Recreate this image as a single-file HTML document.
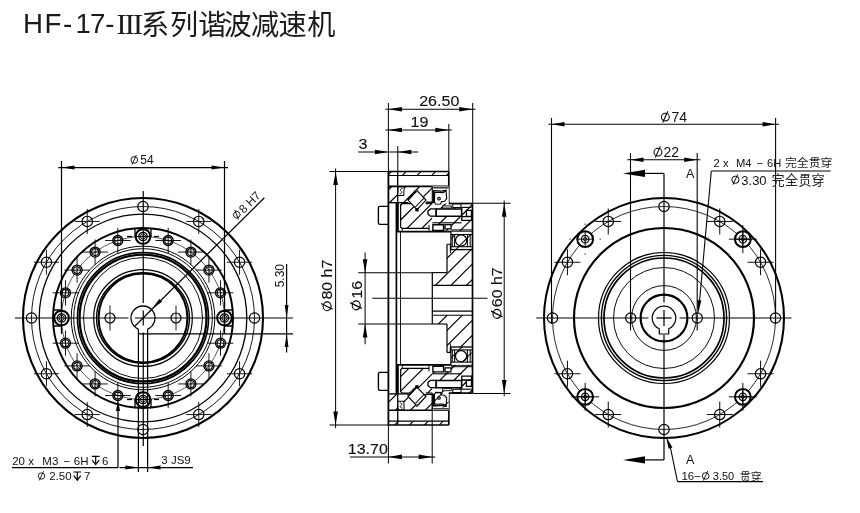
<!DOCTYPE html>
<html><head><meta charset="utf-8"><title>HF-17-III</title>
<style>
html,body{margin:0;padding:0;background:#fff;}
body{width:860px;height:513px;overflow:hidden;font-family:"Liberation Sans",sans-serif;}
svg{display:block;will-change:transform}
svg text{font-family:"Liberation Sans",sans-serif;fill:#111;stroke:none}
svg text.b{stroke:#111;stroke-width:.12px}
</style></head><body>
<svg width="860" height="513" viewBox="0 0 860 513" stroke="#000" fill="none" stroke-linecap="butt">
<rect x="0" y="0" width="860" height="513" fill="#fff" stroke="none"/>
<g id="leftview">
<circle cx="143" cy="318" r="120" stroke-width="2.08" fill="none" />
<circle cx="143" cy="318" r="111.5" stroke-width="0.91" fill="none" />
<circle cx="143" cy="318" r="103.8" stroke-width="1.3" fill="none" />
<circle cx="143" cy="318" r="90" stroke-width="1.95" fill="none" />
<circle cx="143" cy="318" r="81.5" stroke-width="0.65" fill="none" />
<circle cx="143" cy="318" r="71.8" stroke-width="0.98" fill="none" />
<circle cx="143" cy="318" r="69.3" stroke-width="0.98" fill="none" />
<circle cx="143" cy="318" r="65.55" stroke-width="1.62" fill="none" />
<circle cx="143" cy="318" r="63.45" stroke-width="2.21" fill="none" />
<circle cx="143" cy="318" r="44.4" stroke-width="1.95" fill="none" />
<ellipse cx="143.0" cy="318.0" rx="59.5" ry="60.5" stroke-width="0.95"/>
<ellipse cx="143.0" cy="318.0" rx="49.3" ry="48.4" stroke-width="1.2"/>
<ellipse cx="143.0" cy="318.0" rx="46.4" ry="45.2" stroke-width="1.4"/>
<circle cx="143" cy="206.5" r="5.2" stroke-width="1.17" fill="none" />
<circle cx="198.75" cy="221.44" r="5.2" stroke-width="1.17" fill="none" />
<line x1="186.25" y1="221.44" x2="211.25" y2="221.44" stroke-width="0.91" />
<line x1="198.75" y1="208.94" x2="198.75" y2="233.94" stroke-width="0.91" />
<circle cx="239.56" cy="262.25" r="5.2" stroke-width="1.17" fill="none" />
<line x1="227.06" y1="262.25" x2="252.06" y2="262.25" stroke-width="0.91" />
<line x1="239.56" y1="249.75" x2="239.56" y2="274.75" stroke-width="0.91" />
<circle cx="254.5" cy="318" r="5.2" stroke-width="1.17" fill="none" />
<circle cx="239.56" cy="373.75" r="5.2" stroke-width="1.17" fill="none" />
<line x1="227.06" y1="373.75" x2="252.06" y2="373.75" stroke-width="0.91" />
<line x1="239.56" y1="361.25" x2="239.56" y2="386.25" stroke-width="0.91" />
<circle cx="198.75" cy="414.56" r="5.2" stroke-width="1.17" fill="none" />
<line x1="186.25" y1="414.56" x2="211.25" y2="414.56" stroke-width="0.91" />
<line x1="198.75" y1="402.06" x2="198.75" y2="427.06" stroke-width="0.91" />
<circle cx="143" cy="429.5" r="5.2" stroke-width="1.17" fill="none" />
<circle cx="87.25" cy="414.56" r="5.2" stroke-width="1.17" fill="none" />
<line x1="74.75" y1="414.56" x2="99.75" y2="414.56" stroke-width="0.91" />
<line x1="87.25" y1="402.06" x2="87.25" y2="427.06" stroke-width="0.91" />
<circle cx="46.44" cy="373.75" r="5.2" stroke-width="1.17" fill="none" />
<line x1="33.94" y1="373.75" x2="58.94" y2="373.75" stroke-width="0.91" />
<line x1="46.44" y1="361.25" x2="46.44" y2="386.25" stroke-width="0.91" />
<circle cx="31.5" cy="318" r="5.2" stroke-width="1.17" fill="none" />
<circle cx="46.44" cy="262.25" r="5.2" stroke-width="1.17" fill="none" />
<line x1="33.94" y1="262.25" x2="58.94" y2="262.25" stroke-width="0.91" />
<line x1="46.44" y1="249.75" x2="46.44" y2="274.75" stroke-width="0.91" />
<circle cx="87.25" cy="221.44" r="5.2" stroke-width="1.17" fill="none" />
<line x1="74.75" y1="221.44" x2="99.75" y2="221.44" stroke-width="0.91" />
<line x1="87.25" y1="208.94" x2="87.25" y2="233.94" stroke-width="0.91" />
<path d="M151 228.36 L151 236.5 M135 228.36 L135 236.5" stroke-width="1.3" fill="none" />
<circle cx="143" cy="236.5" r="7.3" stroke-width="2.02" fill="#fff" />
<circle cx="143" cy="236.5" r="4.2" stroke-width="1.3" fill="none" />
<circle cx="143" cy="236.5" r="2.6" stroke-width="0.91" fill="none" />
<line x1="132" y1="236.5" x2="127" y2="236.5" stroke-width="1.23" />
<line x1="154" y1="236.5" x2="159" y2="236.5" stroke-width="1.23" />
<line x1="134.5" y1="236.5" x2="151.5" y2="236.5" stroke-width="1.23" />
<circle cx="168.18" cy="240.49" r="5" stroke-width="1.3" fill="none" />
<circle cx="168.18" cy="240.49" r="3.4" stroke-width="1.1" fill="none" />
<line x1="155.38" y1="240.49" x2="180.98" y2="240.49" stroke-width="0.91" />
<line x1="168.18" y1="227.89" x2="168.18" y2="253.09" stroke-width="0.91" />
<circle cx="190.9" cy="252.07" r="5" stroke-width="1.3" fill="none" />
<circle cx="190.9" cy="252.07" r="3.4" stroke-width="1.1" fill="none" />
<line x1="178.1" y1="252.07" x2="203.7" y2="252.07" stroke-width="0.91" />
<line x1="190.9" y1="239.47" x2="190.9" y2="264.67" stroke-width="0.91" />
<circle cx="208.93" cy="270.1" r="5" stroke-width="1.3" fill="none" />
<circle cx="208.93" cy="270.1" r="3.4" stroke-width="1.1" fill="none" />
<line x1="196.13" y1="270.1" x2="221.73" y2="270.1" stroke-width="0.91" />
<line x1="208.93" y1="257.5" x2="208.93" y2="282.7" stroke-width="0.91" />
<circle cx="220.51" cy="292.82" r="5" stroke-width="1.3" fill="none" />
<circle cx="220.51" cy="292.82" r="3.4" stroke-width="1.1" fill="none" />
<line x1="207.71" y1="292.82" x2="233.31" y2="292.82" stroke-width="0.91" />
<line x1="220.51" y1="280.22" x2="220.51" y2="305.42" stroke-width="0.91" />
<path d="M232.64 326 L224.5 326 M232.64 310 L224.5 310" stroke-width="1.3" fill="none" />
<circle cx="224.5" cy="318" r="7.3" stroke-width="2.02" fill="#fff" />
<circle cx="224.5" cy="318" r="4.2" stroke-width="1.3" fill="none" />
<circle cx="224.5" cy="318" r="2.6" stroke-width="0.91" fill="none" />
<line x1="224.5" y1="307" x2="224.5" y2="302" stroke-width="1.23" />
<line x1="224.5" y1="329" x2="224.5" y2="334" stroke-width="1.23" />
<line x1="224.5" y1="309.5" x2="224.5" y2="326.5" stroke-width="1.23" />
<circle cx="220.51" cy="343.18" r="5" stroke-width="1.3" fill="none" />
<circle cx="220.51" cy="343.18" r="3.4" stroke-width="1.1" fill="none" />
<line x1="207.71" y1="343.18" x2="233.31" y2="343.18" stroke-width="0.91" />
<line x1="220.51" y1="330.58" x2="220.51" y2="355.78" stroke-width="0.91" />
<circle cx="208.93" cy="365.9" r="5" stroke-width="1.3" fill="none" />
<circle cx="208.93" cy="365.9" r="3.4" stroke-width="1.1" fill="none" />
<line x1="196.13" y1="365.9" x2="221.73" y2="365.9" stroke-width="0.91" />
<line x1="208.93" y1="353.3" x2="208.93" y2="378.5" stroke-width="0.91" />
<circle cx="190.9" cy="383.93" r="5" stroke-width="1.3" fill="none" />
<circle cx="190.9" cy="383.93" r="3.4" stroke-width="1.1" fill="none" />
<line x1="178.1" y1="383.93" x2="203.7" y2="383.93" stroke-width="0.91" />
<line x1="190.9" y1="371.33" x2="190.9" y2="396.53" stroke-width="0.91" />
<circle cx="168.18" cy="395.51" r="5" stroke-width="1.3" fill="none" />
<circle cx="168.18" cy="395.51" r="3.4" stroke-width="1.1" fill="none" />
<line x1="155.38" y1="395.51" x2="180.98" y2="395.51" stroke-width="0.91" />
<line x1="168.18" y1="382.91" x2="168.18" y2="408.11" stroke-width="0.91" />
<path d="M135 407.64 L135 399.5 M151 407.64 L151 399.5" stroke-width="1.3" fill="none" />
<circle cx="143" cy="399.5" r="7.3" stroke-width="2.02" fill="#fff" />
<circle cx="143" cy="399.5" r="4.2" stroke-width="1.3" fill="none" />
<circle cx="143" cy="399.5" r="2.6" stroke-width="0.91" fill="none" />
<line x1="154" y1="399.5" x2="159" y2="399.5" stroke-width="1.23" />
<line x1="132" y1="399.5" x2="127" y2="399.5" stroke-width="1.23" />
<line x1="151.5" y1="399.5" x2="134.5" y2="399.5" stroke-width="1.23" />
<circle cx="117.82" cy="395.51" r="5" stroke-width="1.3" fill="none" />
<circle cx="117.82" cy="395.51" r="3.4" stroke-width="1.1" fill="none" />
<line x1="105.02" y1="395.51" x2="130.62" y2="395.51" stroke-width="0.91" />
<line x1="117.82" y1="382.91" x2="117.82" y2="408.11" stroke-width="0.91" />
<circle cx="95.1" cy="383.93" r="5" stroke-width="1.3" fill="none" />
<circle cx="95.1" cy="383.93" r="3.4" stroke-width="1.1" fill="none" />
<line x1="82.3" y1="383.93" x2="107.9" y2="383.93" stroke-width="0.91" />
<line x1="95.1" y1="371.33" x2="95.1" y2="396.53" stroke-width="0.91" />
<circle cx="77.07" cy="365.9" r="5" stroke-width="1.3" fill="none" />
<circle cx="77.07" cy="365.9" r="3.4" stroke-width="1.1" fill="none" />
<line x1="64.27" y1="365.9" x2="89.87" y2="365.9" stroke-width="0.91" />
<line x1="77.07" y1="353.3" x2="77.07" y2="378.5" stroke-width="0.91" />
<circle cx="65.49" cy="343.18" r="5" stroke-width="1.3" fill="none" />
<circle cx="65.49" cy="343.18" r="3.4" stroke-width="1.1" fill="none" />
<line x1="52.69" y1="343.18" x2="78.29" y2="343.18" stroke-width="0.91" />
<line x1="65.49" y1="330.58" x2="65.49" y2="355.78" stroke-width="0.91" />
<path d="M53.36 310 L61.5 310 M53.36 326 L61.5 326" stroke-width="1.3" fill="none" />
<circle cx="61.5" cy="318" r="7.3" stroke-width="2.02" fill="#fff" />
<circle cx="61.5" cy="318" r="4.2" stroke-width="1.3" fill="none" />
<circle cx="61.5" cy="318" r="2.6" stroke-width="0.91" fill="none" />
<line x1="61.5" y1="329" x2="61.5" y2="334" stroke-width="1.23" />
<line x1="61.5" y1="307" x2="61.5" y2="302" stroke-width="1.23" />
<line x1="61.5" y1="326.5" x2="61.5" y2="309.5" stroke-width="1.23" />
<circle cx="65.49" cy="292.82" r="5" stroke-width="1.3" fill="none" />
<circle cx="65.49" cy="292.82" r="3.4" stroke-width="1.1" fill="none" />
<line x1="52.69" y1="292.82" x2="78.29" y2="292.82" stroke-width="0.91" />
<line x1="65.49" y1="280.22" x2="65.49" y2="305.42" stroke-width="0.91" />
<circle cx="77.07" cy="270.1" r="5" stroke-width="1.3" fill="none" />
<circle cx="77.07" cy="270.1" r="3.4" stroke-width="1.1" fill="none" />
<line x1="64.27" y1="270.1" x2="89.87" y2="270.1" stroke-width="0.91" />
<line x1="77.07" y1="257.5" x2="77.07" y2="282.7" stroke-width="0.91" />
<circle cx="95.1" cy="252.07" r="5" stroke-width="1.3" fill="none" />
<circle cx="95.1" cy="252.07" r="3.4" stroke-width="1.1" fill="none" />
<line x1="82.3" y1="252.07" x2="107.9" y2="252.07" stroke-width="0.91" />
<line x1="95.1" y1="239.47" x2="95.1" y2="264.67" stroke-width="0.91" />
<circle cx="117.82" cy="240.49" r="5" stroke-width="1.3" fill="none" />
<circle cx="117.82" cy="240.49" r="3.4" stroke-width="1.1" fill="none" />
<line x1="105.02" y1="240.49" x2="130.62" y2="240.49" stroke-width="0.91" />
<line x1="117.82" y1="227.89" x2="117.82" y2="253.09" stroke-width="0.91" />
<circle cx="110" cy="318" r="5" stroke-width="1.17" fill="none" />
<line x1="110" y1="305.5" x2="110" y2="330.5" stroke-width="0.91" />
<circle cx="176" cy="318" r="5" stroke-width="1.17" fill="none" />
<line x1="176" y1="305.5" x2="176" y2="330.5" stroke-width="0.91" />
<path d="M147.6 329.08 A12.0 12.0 0 1 0 138.4 329.08" stroke-width="1.3" fill="none" />
<line x1="15" y1="318" x2="128.5" y2="318" stroke-width="1.2" />
<line x1="135" y1="318" x2="293" y2="318" stroke-width="1.2" />
<line x1="143.25" y1="191" x2="143.25" y2="303" stroke-width="1.2" />
<line x1="143.25" y1="310.5" x2="143.25" y2="325.5" stroke-width="1.2" />
<line x1="143.25" y1="332.5" x2="143.25" y2="446" stroke-width="1.2" />
<line x1="138.4" y1="329.08" x2="138.4" y2="472" stroke-width="1.23" />
<line x1="147.6" y1="329.08" x2="147.6" y2="472" stroke-width="1.23" />
<line x1="138.4" y1="333.9" x2="293" y2="333.9" stroke-width="1.23" />
<line x1="286.6" y1="264" x2="286.6" y2="352.5" stroke-width="1.23" />
<polygon points="286.6,318 284.7,305 288.5,305" fill="#000" stroke="none"/>
<polygon points="286.6,333.9 288.5,346.9 284.7,346.9" fill="#000" stroke="none"/>
<text x="284.2" y="287.3" font-size="12" text-anchor="start" transform="rotate(-90 284.2 287.3)" >5.30</text>
<line x1="61.5" y1="161" x2="61.5" y2="330.5" stroke-width="1.23" />
<line x1="224.5" y1="161" x2="224.5" y2="330.5" stroke-width="1.23" />
<line x1="58.3" y1="167.6" x2="228" y2="167.6" stroke-width="1.23" />
<polygon points="61.5,167.6 74.5,165.6 74.5,169.6" fill="#000" stroke="none"/>
<polygon points="224.5,167.6 211.5,169.6 211.5,165.6" fill="#000" stroke="none"/>
<g stroke-width="0.9" fill="none"><ellipse cx="134.28" cy="159.92" rx="3.36" ry="3.3"/><line x1="132" y1="164.54" x2="136.38" y2="154.94"/></g>
<text x="140.36" y="164.3" font-size="12" text-anchor="start" >54</text>
<line x1="134.51" y1="326.49" x2="264.3" y2="197.8" stroke-width="1.23" />
<polygon points="151.49,309.51 159.26,298.91 162.09,301.74" fill="#000" stroke="none"/>
<g transform="translate(237.0,220.6) rotate(-45)">
<g stroke-width="0.89" fill="none"><ellipse cx="4.01" cy="-4.31" rx="3.3" ry="3.25"/><line x1="1.77" y1="0.24" x2="6.08" y2="-9.2"/></g>
<text x="9.5" y="0" font-size="11.8" text-anchor="start" >8 H7</text>
</g>
<line x1="12" y1="467.6" x2="118" y2="467.6" stroke-width="1.23" />
<line x1="118" y1="467.6" x2="118" y2="410" stroke-width="1.23" />
<polygon points="118,399.6 120,411.1 116,411.1" fill="#000" stroke="none"/>
<text x="12.2" y="464.6" font-size="11.5" text-anchor="start" >20 x</text>
<text x="42.3" y="464.6" font-size="11.5" text-anchor="start" >M3</text>
<text x="63.5" y="464.6" font-size="11.5" text-anchor="start" >−</text>
<text x="73.8" y="464.6" font-size="11.5" text-anchor="start" >6H</text>
<text x="102" y="464.6" font-size="11.5" text-anchor="start" >6</text>
<path d="M91.8 456.4 H99.59 M95.69 456.4 V463.6" stroke-width="1.17" fill="none" />
<path d="M92.21 460.09 L95.69 464.6 L99.18 460.09" stroke-width="1.17" fill="none" />
<g stroke-width="0.86" fill="none"><ellipse cx="41.51" cy="476" rx="3.22" ry="3.16"/><line x1="39.32" y1="480.43" x2="43.52" y2="471.23"/></g>
<text x="49.2" y="480.2" font-size="11.5" text-anchor="start" >2.50</text>
<path d="M73.4 472 H81.19 M77.3 472 V479.2" stroke-width="1.17" fill="none" />
<path d="M73.81 475.69 L77.3 480.2 L80.78 475.69" stroke-width="1.17" fill="none" />
<text x="84" y="480.2" font-size="11.5" text-anchor="start" >7</text>
<line x1="119.5" y1="467.6" x2="193" y2="467.6" stroke-width="1.23" />
<polygon points="138.4,467.6 125.4,469.6 125.4,465.6" fill="#000" stroke="none"/>
<polygon points="147.6,467.6 160.6,465.6 160.6,469.6" fill="#000" stroke="none"/>
<text x="161.3" y="464.2" font-size="11.5" text-anchor="start" >3 JS9</text>
</g>
<g id="midview">
<clipPath id="hc1"><path d="M388.4 171.5 L448.8 171.5 L448.8 175.5 L388.4 175.5 Z" clip-rule="evenodd"/></clipPath>
<path d="M388.4 174.7 L448.8 114.3 M388.4 189.4 L448.8 129 M388.4 204.1 L448.8 143.7 M388.4 218.8 L448.8 158.4 M388.4 233.5 L448.8 173.1 " stroke-width="1.12" clip-path="url(#hc1)"/>
<clipPath id="hc2"><path d="M388.4 186.4 L432.3 186.4 L432.3 202.7 L388.4 202.7 Z M417 190.6 L426 200.1 L417 209.6 L408 200.1 Z M398.2 186.9 L404.2 186.9 L403.8 195.4 L397.8 195.4 Z" clip-rule="evenodd"/></clipPath>
<path d="M388.4 189.8 L432.3 145.9 M388.4 203.8 L432.3 159.9 M388.4 217.8 L432.3 173.9 M388.4 231.8 L432.3 187.9 M388.4 245.8 L432.3 201.9 " stroke-width="1.18" clip-path="url(#hc2)"/>
<line x1="388.4" y1="171.5" x2="448.8" y2="171.5" stroke-width="1.46" />
<line x1="388.4" y1="175.5" x2="448.8" y2="175.5" stroke-width="1.23" />
<line x1="388.4" y1="186.4" x2="448.8" y2="186.4" stroke-width="1.57" />
<line x1="448.8" y1="171.5" x2="448.8" y2="203.5" stroke-width="1.68" />
<line x1="397.7" y1="171.5" x2="397.7" y2="202.7" stroke-width="1.34" />
<line x1="388.4" y1="202.7" x2="408.4" y2="202.7" stroke-width="1.34" />
<line x1="425.6" y1="202.2" x2="432.3" y2="202.2" stroke-width="1.34" />
<path d="M398.2 186.9 L404.2 186.9 L403.8 195.4 L397.8 195.4 Z" stroke-width="1.01" fill="#fff" />
<path d="M399.6 193.6 C401.5 194.2 402.8 191.8 401 191 C399.6 190.2 400.6 188.2 402.6 188.6" stroke-width="0.9" fill="none" />
<clipPath id="hc3"><path d="M400.6 205 L402 203.6 L432.3 203.6 L432.3 228.3 L402 228.3 L400.6 226.9 Z M417 190.6 L426 200.1 L417 209.6 L408 200.1 Z M428 211 L430.4 208.9 L436.2 208.9 L436.2 216.2 L430.4 216.2 L428 214.2 Z" clip-rule="evenodd"/></clipPath>
<path d="M400.6 205.2 L432.3 173.5 M400.6 220 L432.3 188.3 M400.6 234.8 L432.3 203.1 M400.6 249.6 L432.3 217.9 " stroke-width="1.18" clip-path="url(#hc3)"/>
<path d="M412.2 203.6 L402 203.6 L400.6 205 L400.6 226.9 L402 228.3 L429 228.3" stroke-width="1.23" fill="none" />
<line x1="425.6" y1="203.6" x2="432.3" y2="203.6" stroke-width="1.12" />
<line x1="402.3" y1="228.3" x2="402.3" y2="231.7" stroke-width="0.9" />
<line x1="429" y1="225" x2="429" y2="231.7" stroke-width="1.01" />
<path d="M417 190.6 L426 200.1 L417 209.6 L408 200.1 Z" stroke-width="1.12" fill="#fff" />
<line x1="407.7" y1="199.2" x2="416.1" y2="190.4" stroke-width="2.13" stroke-dasharray="0.9 0.45"/>
<line x1="408" y1="200.1" x2="417" y2="190.6" stroke-width="1.01" />
<line x1="415.4" y1="207" x2="424.4" y2="197.6" stroke-width="1.01" />
<rect x="415.3" y="208.2" width="3.3" height="3.2" fill="#000" stroke="none"/>
<circle cx="417" cy="191" r="0.9" stroke-width="0.78" fill="#fff" />
<rect x="432.3" y="186.4" width="16.5" height="17.1" fill="#fff" stroke="none"/>
<line x1="433.2" y1="187.8" x2="448.8" y2="187.8" stroke-width="1.57" stroke="#444"/>
<line x1="432.3" y1="186.4" x2="432.3" y2="203.5" stroke-width="1.12" />
<line x1="433.6" y1="190.4" x2="433.6" y2="203" stroke-width="1.68" />
<path d="M433.6 190.6 L441.5 191.2 L446.8 190.2" stroke-width="1.34" fill="none" />
<path d="M434.8 192.3 L443 192.6 L446 190.8 L446.7 198.6 L444.5 201.3 L441.6 201.6 L440.6 204 L435.8 204.2 L434.3 202 Z" stroke-width="1.12" fill="none" />
<circle cx="439" cy="198.7" r="1.3" stroke-width="1.12" fill="none" />
<path d="M388.4 206.3 H379.9 Q378.4 206.3 378.4 207.8 V222.8 Q378.4 224.3 379.9 224.3 H388.4" stroke-width="1.34" fill="none" />
<line x1="396.4" y1="202.7" x2="396.4" y2="298.3" stroke-width="1.68" />
<line x1="397.9" y1="203" x2="397.9" y2="231.7" stroke-width="1.79" />
<line x1="400.5" y1="231.7" x2="400.5" y2="298.3" stroke-width="0.9" />
<line x1="397" y1="231.7" x2="472.5" y2="231.7" stroke-width="1.68" />
<clipPath id="hc4"><path d="M432.3 203.5 L472.5 203.5 L472.5 231.7 L432.3 231.7 Z M436.2 208.9 L461.6 208.9 L461.6 216.2 L436.2 216.2 Z M466.4 210.3 L471.5 210.3 L471.5 216.4 L466.4 216.4 Z M461.8 216.6 L471.5 216.6 L471.5 220.4 L461.8 220.4 Z M452.8 204 L461 204 L461 207.4 L452.8 207.4 Z M432.9 224.7 L443.6 224.7 L443.6 230.4 L432.9 230.4 Z M445 224.7 L451 224.7 L451 228.8 L445 228.8 Z M442.5 205.9 L451.4 205.9 L451.4 208 L442.5 208 Z M428 211 L430.4 208.9 L436.2 208.9 L436.2 216.2 L430.4 216.2 L428 214.2 Z" clip-rule="evenodd"/></clipPath>
<path d="M432.3 216.9 L472.5 176.7 M432.3 230.8 L472.5 190.6 M432.3 244.7 L472.5 204.5 M432.3 258.6 L472.5 218.4 " stroke-width="1.23" clip-path="url(#hc4)"/>
<line x1="448.8" y1="203.5" x2="472.5" y2="203.5" stroke-width="1.68" />
<path d="M428 211 L430.4 208.9 L436.2 208.9 L436.2 216.2 L430.4 216.2 L428 214.2 Z" stroke-width="1.34" fill="#fff" />
<path d="M436.2 208.9 L461.6 208.9 L461.6 216.2 L436.2 216.2 Z" stroke-width="1.51" fill="#fff" />
<path d="M466.4 210.3 L471.5 210.3 L471.5 216.4 L466.4 216.4 Z" stroke-width="1.34" fill="#fff" />
<path d="M461.8 216.6 L471.5 216.6 L471.5 220.4 L461.8 220.4 Z" stroke-width="1.34" fill="#fff" />
<path d="M461.6 207.4 L471.5 207.4" stroke-width="1.12" fill="none" />
<line x1="461.6" y1="207.4" x2="461.6" y2="216.9" stroke-width="1.12" />
<path d="M452.8 204 L461 204 L461 207.4 L452.8 207.4 Z" stroke-width="1.01" fill="#fff" />
<path d="M432.9 224.7 L443.6 224.7 L443.6 230.4 L432.9 230.4 Z" stroke-width="1.4" fill="#fff" />
<path d="M445 224.7 L451 224.7 L451 228.8 L445 228.8 Z" stroke-width="1.23" fill="#fff" />
<path d="M442.5 205.9 L451.4 205.9 L451.4 208 L442.5 208 Z" stroke-width="0.9" fill="#fff" />
<line x1="432.3" y1="222.8" x2="461.6" y2="222.8" stroke-width="1.12" />
<line x1="451" y1="229.9" x2="472.5" y2="229.9" stroke-width="1.01" />
<rect x="450.9" y="231.7" width="20.9" height="17.9" fill="#fff" stroke="none"/>
<line x1="450.9" y1="231.7" x2="450.9" y2="249.6" stroke-width="1.23" />
<line x1="450.9" y1="234.5" x2="471.8" y2="234.5" stroke-width="1.12" />
<line x1="450.9" y1="246.7" x2="471.8" y2="246.7" stroke-width="1.12" />
<line x1="450.9" y1="249.6" x2="471.8" y2="249.6" stroke-width="1.34" />
<line x1="452.3" y1="234.5" x2="452.3" y2="246.7" stroke-width="1.01" />
<line x1="454.6" y1="234.5" x2="454.6" y2="246.7" stroke-width="1.01" />
<line x1="467.4" y1="234.5" x2="467.4" y2="246.7" stroke-width="1.01" />
<line x1="470.2" y1="234.5" x2="470.2" y2="246.7" stroke-width="1.01" />
<circle cx="461.1" cy="240.4" r="5.6" stroke-width="1.23" fill="#fff" />
<clipPath id="hc5"><path d="M447 244.2 L450.4 244.2 L450.4 249.6 L472.5 249.6 L472.5 285.4 L432.3 285.4 L432.3 272.6 L447 272.6 Z" clip-rule="evenodd"/></clipPath>
<path d="M432.3 257.5 L472.5 217.3 M432.3 273 L472.5 232.8 M432.3 288.5 L472.5 248.3 M432.3 304 L472.5 263.8 M432.3 319.5 L472.5 279.3 " stroke-width="1.18" clip-path="url(#hc5)"/>
<clipPath id="hc6"><path d="M450.9 234.5 L471.8 234.5 L471.8 249.6 L450.9 249.6 Z" clip-rule="evenodd"/></clipPath>
<path d="M450.9 238.9 L471.8 218 M450.9 254.4 L471.8 233.5 M450.9 269.9 L471.8 249 " stroke-width="1.01" clip-path="url(#hc6)"/>
<path d="M447 244.2 L450.4 244.2 L450.4 249.6" stroke-width="1.12" fill="none" />
<line x1="450.4" y1="246.2" x2="450.4" y2="253" stroke-width="1.01" />
<line x1="447" y1="244.2" x2="447" y2="272.6" stroke-width="1.23" />
<line x1="432.3" y1="272.6" x2="447" y2="272.6" stroke-width="1.12" />
<line x1="432.3" y1="272.6" x2="432.3" y2="298.3" stroke-width="1.23" />
<line x1="432.3" y1="285.4" x2="472.5" y2="285.4" stroke-width="1.12" />
<line x1="472.5" y1="203.5" x2="472.5" y2="298.3" stroke-width="1.68" />
<line x1="388.4" y1="171.5" x2="388.4" y2="298.3" stroke-width="1.79" />
<clipPath id="hc7"><path d="M388.4 425.1 L448.8 425.1 L448.8 421.1 L388.4 421.1 Z" clip-rule="evenodd"/></clipPath>
<path d="M388.4 431.2 L448.8 370.8 M388.4 446.1 L448.8 385.7 M388.4 461 L448.8 400.6 M388.4 475.9 L448.8 415.5 " stroke-width="1.12" clip-path="url(#hc7)"/>
<clipPath id="hc8"><path d="M388.4 410.2 L432.3 410.2 L432.3 393.9 L388.4 393.9 Z M417 406 L426 396.5 L417 387 L408 396.5 Z M398.2 409.7 L404.2 409.7 L403.8 401.2 L397.8 401.2 Z" clip-rule="evenodd"/></clipPath>
<path d="M388.4 402.4 L432.3 358.5 M388.4 417.3 L432.3 373.4 M388.4 432.2 L432.3 388.3 M388.4 447.1 L432.3 403.2 " stroke-width="1.18" clip-path="url(#hc8)"/>
<line x1="388.4" y1="425.1" x2="448.8" y2="425.1" stroke-width="1.46" />
<line x1="388.4" y1="421.1" x2="448.8" y2="421.1" stroke-width="1.23" />
<line x1="388.4" y1="410.2" x2="448.8" y2="410.2" stroke-width="1.57" />
<line x1="448.8" y1="425.1" x2="448.8" y2="393.1" stroke-width="1.68" />
<line x1="397.7" y1="425.1" x2="397.7" y2="393.9" stroke-width="1.34" />
<line x1="388.4" y1="393.9" x2="408.4" y2="393.9" stroke-width="1.34" />
<line x1="425.6" y1="394.4" x2="432.3" y2="394.4" stroke-width="1.34" />
<path d="M398.2 409.7 L404.2 409.7 L403.8 401.2 L397.8 401.2 Z" stroke-width="1.01" fill="#fff" />
<path d="M399.6 403 C401.5 402.4 402.8 404.8 401 405.6 C399.6 406.4 400.6 408.4 402.6 408" stroke-width="0.9" fill="none" />
<clipPath id="hc9"><path d="M400.6 391.6 L402 393 L432.3 393 L432.3 368.3 L402 368.3 L400.6 369.7 Z M417 406 L426 396.5 L417 387 L408 396.5 Z M428 385.6 L430.4 387.7 L436.2 387.7 L436.2 380.4 L430.4 380.4 L428 382.4 Z" clip-rule="evenodd"/></clipPath>
<path d="M400.6 376.6 L432.3 344.9 M400.6 391.1 L432.3 359.4 M400.6 405.6 L432.3 373.9 M400.6 420.1 L432.3 388.4 " stroke-width="1.18" clip-path="url(#hc9)"/>
<path d="M412.2 393 L402 393 L400.6 391.6 L400.6 369.7 L402 368.3 L429 368.3" stroke-width="1.23" fill="none" />
<line x1="425.6" y1="393" x2="432.3" y2="393" stroke-width="1.12" />
<line x1="402.3" y1="368.3" x2="402.3" y2="364.9" stroke-width="0.9" />
<line x1="429" y1="371.6" x2="429" y2="364.9" stroke-width="1.01" />
<path d="M417 406 L426 396.5 L417 387 L408 396.5 Z" stroke-width="1.12" fill="#fff" />
<line x1="407.7" y1="395.6" x2="416.1" y2="386.8" stroke-width="2.13" stroke-dasharray="0.9 0.45"/>
<line x1="408" y1="396.5" x2="417" y2="387" stroke-width="1.01" />
<line x1="415.4" y1="403.4" x2="424.4" y2="394" stroke-width="1.01" />
<rect x="415.3" y="385.2" width="3.3" height="3.2" fill="#000" stroke="none"/>
<circle cx="417" cy="405.6" r="0.9" stroke-width="0.78" fill="#fff" />
<rect x="432.3" y="393.1" width="16.5" height="17.1" fill="#fff" stroke="none"/>
<line x1="433.2" y1="408.8" x2="448.8" y2="408.8" stroke-width="1.57" stroke="#444"/>
<line x1="432.3" y1="410.2" x2="432.3" y2="393.1" stroke-width="1.12" />
<line x1="433.6" y1="406.2" x2="433.6" y2="393.6" stroke-width="1.68" />
<path d="M433.6 406 L441.5 405.4 L446.8 406.4" stroke-width="1.34" fill="none" />
<path d="M434.8 404.3 L443 404 L446 405.8 L446.7 398 L444.5 395.3 L441.6 395 L440.6 392.6 L435.8 392.4 L434.3 394.6 Z" stroke-width="1.12" fill="none" />
<circle cx="439" cy="397.9" r="1.3" stroke-width="1.12" fill="none" />
<clipPath id="hc10"><path d="M434.4 407.6 L448.8 407.6 L448.8 393.1 L434.4 393.1 Z" clip-rule="evenodd"/></clipPath>
<path d="M434.4 401.1 L448.8 386.7 M434.4 416 L448.8 401.6 " stroke-width="1.01" clip-path="url(#hc10)"/>
<path d="M388.4 390.3 H379.9 Q378.4 390.3 378.4 388.8 V373.8 Q378.4 372.3 379.9 372.3 H388.4" stroke-width="1.34" fill="none" />
<line x1="396.4" y1="393.9" x2="396.4" y2="298.3" stroke-width="1.68" />
<line x1="397.9" y1="393.6" x2="397.9" y2="364.9" stroke-width="1.79" />
<line x1="400.5" y1="364.9" x2="400.5" y2="298.3" stroke-width="0.9" />
<line x1="397" y1="364.9" x2="472.5" y2="364.9" stroke-width="1.68" />
<clipPath id="hc11"><path d="M432.3 393.1 L472.5 393.1 L472.5 364.9 L432.3 364.9 Z M436.2 387.7 L461.6 387.7 L461.6 380.4 L436.2 380.4 Z M466.4 386.3 L471.5 386.3 L471.5 380.2 L466.4 380.2 Z M461.8 380 L471.5 380 L471.5 376.2 L461.8 376.2 Z M452.8 392.6 L461 392.6 L461 389.2 L452.8 389.2 Z M432.9 371.9 L443.6 371.9 L443.6 366.2 L432.9 366.2 Z M445 371.9 L451 371.9 L451 367.8 L445 367.8 Z M442.5 390.7 L451.4 390.7 L451.4 388.6 L442.5 388.6 Z M428 385.6 L430.4 387.7 L436.2 387.7 L436.2 380.4 L430.4 380.4 L428 382.4 Z" clip-rule="evenodd"/></clipPath>
<path d="M432.3 373.9 L472.5 333.7 M432.3 387.9 L472.5 347.7 M432.3 401.9 L472.5 361.7 M432.3 415.9 L472.5 375.7 M432.3 429.9 L472.5 389.7 " stroke-width="1.23" clip-path="url(#hc11)"/>
<line x1="448.8" y1="393.1" x2="472.5" y2="393.1" stroke-width="1.68" />
<path d="M428 385.6 L430.4 387.7 L436.2 387.7 L436.2 380.4 L430.4 380.4 L428 382.4 Z" stroke-width="1.34" fill="#fff" />
<path d="M436.2 387.7 L461.6 387.7 L461.6 380.4 L436.2 380.4 Z" stroke-width="1.51" fill="#fff" />
<path d="M466.4 386.3 L471.5 386.3 L471.5 380.2 L466.4 380.2 Z" stroke-width="1.34" fill="#fff" />
<path d="M461.8 380 L471.5 380 L471.5 376.2 L461.8 376.2 Z" stroke-width="1.34" fill="#fff" />
<path d="M461.6 389.2 L471.5 389.2" stroke-width="1.12" fill="none" />
<line x1="461.6" y1="389.2" x2="461.6" y2="379.7" stroke-width="1.12" />
<path d="M452.8 392.6 L461 392.6 L461 389.2 L452.8 389.2 Z" stroke-width="1.01" fill="#fff" />
<path d="M432.9 371.9 L443.6 371.9 L443.6 366.2 L432.9 366.2 Z" stroke-width="1.4" fill="#fff" />
<path d="M445 371.9 L451 371.9 L451 367.8 L445 367.8 Z" stroke-width="1.23" fill="#fff" />
<path d="M442.5 390.7 L451.4 390.7 L451.4 388.6 L442.5 388.6 Z" stroke-width="0.9" fill="#fff" />
<line x1="432.3" y1="373.8" x2="461.6" y2="373.8" stroke-width="1.12" />
<line x1="451" y1="366.7" x2="472.5" y2="366.7" stroke-width="1.01" />
<rect x="450.9" y="347" width="20.9" height="17.9" fill="#fff" stroke="none"/>
<line x1="450.9" y1="364.9" x2="450.9" y2="347" stroke-width="1.23" />
<line x1="450.9" y1="362.1" x2="471.8" y2="362.1" stroke-width="1.12" />
<line x1="450.9" y1="349.9" x2="471.8" y2="349.9" stroke-width="1.12" />
<line x1="450.9" y1="347" x2="471.8" y2="347" stroke-width="1.34" />
<line x1="452.3" y1="362.1" x2="452.3" y2="349.9" stroke-width="1.01" />
<line x1="454.6" y1="362.1" x2="454.6" y2="349.9" stroke-width="1.01" />
<line x1="467.4" y1="362.1" x2="467.4" y2="349.9" stroke-width="1.01" />
<line x1="470.2" y1="362.1" x2="470.2" y2="349.9" stroke-width="1.01" />
<circle cx="461.1" cy="356.2" r="5.6" stroke-width="1.23" fill="#fff" />
<clipPath id="hc12"><path d="M447 352.4 L450.4 352.4 L450.4 347 L472.5 347 L472.5 315.3 L432.3 315.3 L432.3 324 L447 324 Z" clip-rule="evenodd"/></clipPath>
<path d="M432.3 315 L472.5 274.8 M432.3 330.1 L472.5 289.9 M432.3 345.2 L472.5 305 M432.3 360.3 L472.5 320.1 M432.3 375.4 L472.5 335.2 M432.3 390.5 L472.5 350.3 " stroke-width="1.18" clip-path="url(#hc12)"/>
<line x1="432.3" y1="311.1" x2="472.5" y2="311.1" stroke-width="1.12" />
<clipPath id="hc13"><path d="M450.9 362.1 L471.8 362.1 L471.8 347 L450.9 347 Z" clip-rule="evenodd"/></clipPath>
<path d="M450.9 358 L471.8 337.1 M450.9 373.5 L471.8 352.6 " stroke-width="1.01" clip-path="url(#hc13)"/>
<path d="M447 352.4 L450.4 352.4 L450.4 347" stroke-width="1.12" fill="none" />
<line x1="450.4" y1="350.4" x2="450.4" y2="343.6" stroke-width="1.01" />
<line x1="447" y1="352.4" x2="447" y2="324" stroke-width="1.23" />
<line x1="432.3" y1="324" x2="447" y2="324" stroke-width="1.12" />
<line x1="432.3" y1="324" x2="432.3" y2="298.3" stroke-width="1.23" />
<line x1="432.3" y1="315.3" x2="472.5" y2="315.3" stroke-width="1.12" />
<line x1="472.5" y1="393.1" x2="472.5" y2="298.3" stroke-width="1.68" />
<line x1="388.4" y1="425.1" x2="388.4" y2="298.3" stroke-width="1.79" />
<line x1="372.3" y1="298.3" x2="487.5" y2="298.3" stroke-width="1.01" />
<line x1="388.4" y1="103" x2="388.4" y2="171.5" stroke-width="1.01" />
<line x1="472.7" y1="103" x2="472.7" y2="203.5" stroke-width="1.01" />
<line x1="385.4" y1="109.2" x2="475.6" y2="109.2" stroke-width="1.01" />
<polygon points="388.4,109.2 401.9,106.9 401.9,111.5" fill="#000" stroke="none"/>
<polygon points="472.7,109.2 459.2,111.5 459.2,106.9" fill="#000" stroke="none"/>
<text x="0" y="0" font-size="15.2" text-anchor="start" transform="translate(419.2 106) scale(1.055 1)" class="b">26.50</text>
<line x1="448.8" y1="124" x2="448.8" y2="171.5" stroke-width="1.01" />
<line x1="385.4" y1="130" x2="451.8" y2="130" stroke-width="1.01" />
<polygon points="388.4,130 401.9,127.7 401.9,132.3" fill="#000" stroke="none"/>
<polygon points="448.8,130 435.3,132.3 435.3,127.7" fill="#000" stroke="none"/>
<text x="0" y="0" font-size="15.2" text-anchor="start" transform="translate(410.6 126.5) scale(1.055 1)" class="b">19</text>
<line x1="397.8" y1="146" x2="397.8" y2="171.5" stroke-width="1.01" />
<line x1="358.2" y1="152" x2="418.2" y2="152" stroke-width="1.01" />
<polygon points="388.4,152 374.9,154.3 374.9,149.7" fill="#000" stroke="none"/>
<polygon points="397.8,152 411.3,149.7 411.3,154.3" fill="#000" stroke="none"/>
<text x="0" y="0" font-size="15.2" text-anchor="start" transform="translate(358.6 148.6) scale(1.055 1)" class="b">3</text>
<line x1="329.5" y1="171.5" x2="388.4" y2="171.5" stroke-width="1.01" />
<line x1="329.5" y1="425.1" x2="388.4" y2="425.1" stroke-width="1.01" />
<line x1="335.6" y1="168.4" x2="335.6" y2="428.2" stroke-width="1.01" />
<polygon points="335.6,171.5 337.9,185 333.3,185" fill="#000" stroke="none"/>
<polygon points="335.6,425.1 333.3,411.6 337.9,411.6" fill="#000" stroke="none"/>
<g transform="translate(332.4,311.7) rotate(-90) scale(1.10,1)">
<g stroke-width="1.09" fill="none"><ellipse cx="4.93" cy="-5.29" rx="4.06" ry="3.99"/><line x1="2.18" y1="0.29" x2="7.47" y2="-11.31"/></g>
<text x="11" y="0" font-size="14.5" text-anchor="start" class="b">80 h7</text>
</g>
<line x1="358.2" y1="272.8" x2="396.4" y2="272.8" stroke-width="1.01" />
<line x1="358.2" y1="323.9" x2="396.4" y2="323.9" stroke-width="1.01" />
<line x1="396.4" y1="272.8" x2="432.3" y2="272.8" stroke-width="1.01" />
<line x1="396.4" y1="323.9" x2="432.3" y2="323.9" stroke-width="1.01" />
<line x1="365.1" y1="252.4" x2="365.1" y2="344.2" stroke-width="1.01" />
<polygon points="365.1,272.8 362.8,259.3 367.4,259.3" fill="#000" stroke="none"/>
<polygon points="365.1,323.9 367.4,337.4 362.8,337.4" fill="#000" stroke="none"/>
<g transform="translate(361.5,310.8) rotate(-90) scale(1.10,1)">
<g stroke-width="1.09" fill="none"><ellipse cx="4.93" cy="-5.29" rx="4.06" ry="3.99"/><line x1="2.18" y1="0.29" x2="7.47" y2="-11.31"/></g>
<text x="11" y="0" font-size="14.5" text-anchor="start" class="b">16</text>
</g>
<line x1="472.7" y1="203.3" x2="510.5" y2="203.3" stroke-width="1.01" />
<line x1="472.7" y1="393.5" x2="510.5" y2="393.5" stroke-width="1.01" />
<line x1="504.2" y1="200.5" x2="504.2" y2="396.3" stroke-width="1.01" />
<polygon points="504.2,203.3 506.5,216.8 501.9,216.8" fill="#000" stroke="none"/>
<polygon points="504.2,393.5 501.9,380 506.5,380" fill="#000" stroke="none"/>
<g transform="translate(502.3,319.3) rotate(-90) scale(1.10,1)">
<g stroke-width="1.09" fill="none"><ellipse cx="4.93" cy="-5.29" rx="4.06" ry="3.99"/><line x1="2.18" y1="0.29" x2="7.47" y2="-11.31"/></g>
<text x="11" y="0" font-size="14.5" text-anchor="start" class="b">60 h7</text>
</g>
<line x1="388.4" y1="425.1" x2="388.4" y2="463.5" stroke-width="1.01" />
<line x1="432.2" y1="394" x2="432.2" y2="463.5" stroke-width="1.01" />
<line x1="350" y1="456.9" x2="435.2" y2="456.9" stroke-width="1.01" />
<polygon points="388.4,456.9 401.9,454.6 401.9,459.2" fill="#000" stroke="none"/>
<polygon points="432.2,456.9 418.7,459.2 418.7,454.6" fill="#000" stroke="none"/>
<text x="0" y="0" font-size="15.2" text-anchor="start" transform="translate(347.8 453.8) scale(1.055 1)" class="b">13.70</text>
</g>
<g id="rightview">
<circle cx="664" cy="318" r="120" stroke-width="2.04" fill="none" />
<circle cx="664" cy="318" r="111.5" stroke-width="0.84" fill="none" />
<circle cx="664" cy="318" r="90" stroke-width="2.16" fill="none" />
<circle cx="664" cy="318" r="65.5" stroke-width="1.2" fill="none" />
<circle cx="664" cy="318" r="62.6" stroke-width="1.38" fill="none" />
<circle cx="664" cy="318" r="60" stroke-width="1.68" fill="none" />
<circle cx="664" cy="318" r="50.5" stroke-width="0.96" fill="none" />
<circle cx="664" cy="318" r="32.4" stroke-width="0.96" fill="none" />
<circle cx="664" cy="318" r="23.4" stroke-width="2.16" fill="none" />
<circle cx="664" cy="206.5" r="5.2" stroke-width="1.2" fill="none" />
<circle cx="719.75" cy="221.44" r="5.2" stroke-width="1.2" fill="none" />
<line x1="706.75" y1="221.44" x2="732.75" y2="221.44" stroke-width="0.96" />
<line x1="719.75" y1="208.44" x2="719.75" y2="234.44" stroke-width="0.96" />
<circle cx="760.56" cy="262.25" r="5.2" stroke-width="1.2" fill="none" />
<line x1="747.56" y1="262.25" x2="773.56" y2="262.25" stroke-width="0.96" />
<line x1="760.56" y1="249.25" x2="760.56" y2="275.25" stroke-width="0.96" />
<circle cx="775.5" cy="318" r="5.2" stroke-width="1.2" fill="none" />
<circle cx="760.56" cy="373.75" r="5.2" stroke-width="1.2" fill="none" />
<line x1="747.56" y1="373.75" x2="773.56" y2="373.75" stroke-width="0.96" />
<line x1="760.56" y1="360.75" x2="760.56" y2="386.75" stroke-width="0.96" />
<circle cx="719.75" cy="414.56" r="5.2" stroke-width="1.2" fill="none" />
<line x1="706.75" y1="414.56" x2="732.75" y2="414.56" stroke-width="0.96" />
<line x1="719.75" y1="401.56" x2="719.75" y2="427.56" stroke-width="0.96" />
<circle cx="664" cy="429.5" r="5.2" stroke-width="1.2" fill="none" />
<circle cx="608.25" cy="414.56" r="5.2" stroke-width="1.2" fill="none" />
<line x1="595.25" y1="414.56" x2="621.25" y2="414.56" stroke-width="0.96" />
<line x1="608.25" y1="401.56" x2="608.25" y2="427.56" stroke-width="0.96" />
<circle cx="567.44" cy="373.75" r="5.2" stroke-width="1.2" fill="none" />
<line x1="554.44" y1="373.75" x2="580.44" y2="373.75" stroke-width="0.96" />
<line x1="567.44" y1="360.75" x2="567.44" y2="386.75" stroke-width="0.96" />
<circle cx="552.5" cy="318" r="5.2" stroke-width="1.2" fill="none" />
<circle cx="567.44" cy="262.25" r="5.2" stroke-width="1.2" fill="none" />
<line x1="554.44" y1="262.25" x2="580.44" y2="262.25" stroke-width="0.96" />
<line x1="567.44" y1="249.25" x2="567.44" y2="275.25" stroke-width="0.96" />
<circle cx="608.25" cy="221.44" r="5.2" stroke-width="1.2" fill="none" />
<line x1="595.25" y1="221.44" x2="621.25" y2="221.44" stroke-width="0.96" />
<line x1="608.25" y1="208.44" x2="608.25" y2="234.44" stroke-width="0.96" />
<circle cx="742.84" cy="239.16" r="7.9" stroke-width="1.98" fill="#fff" />
<line x1="734.84" y1="239.16" x2="750.84" y2="239.16" stroke-width="0.96" />
<line x1="742.84" y1="231.16" x2="742.84" y2="247.16" stroke-width="0.96" />
<circle cx="742.84" cy="239.16" r="3.7" stroke-width="1.2" fill="none" />
<circle cx="742.84" cy="239.16" r="1.7" stroke-width="0.84" fill="none" />
<line x1="728.84" y1="239.16" x2="756.84" y2="239.16" stroke-width="0.96" />
<line x1="742.84" y1="225.16" x2="742.84" y2="253.16" stroke-width="0.96" />
<circle cx="742.84" cy="396.84" r="7.9" stroke-width="1.98" fill="#fff" />
<line x1="734.84" y1="396.84" x2="750.84" y2="396.84" stroke-width="0.96" />
<line x1="742.84" y1="388.84" x2="742.84" y2="404.84" stroke-width="0.96" />
<circle cx="742.84" cy="396.84" r="3.7" stroke-width="1.2" fill="none" />
<circle cx="742.84" cy="396.84" r="1.7" stroke-width="0.84" fill="none" />
<line x1="728.84" y1="396.84" x2="756.84" y2="396.84" stroke-width="0.96" />
<line x1="742.84" y1="382.84" x2="742.84" y2="410.84" stroke-width="0.96" />
<circle cx="585.16" cy="396.84" r="7.9" stroke-width="1.98" fill="#fff" />
<line x1="577.16" y1="396.84" x2="593.16" y2="396.84" stroke-width="0.96" />
<line x1="585.16" y1="388.84" x2="585.16" y2="404.84" stroke-width="0.96" />
<circle cx="585.16" cy="396.84" r="3.7" stroke-width="1.2" fill="none" />
<circle cx="585.16" cy="396.84" r="1.7" stroke-width="0.84" fill="none" />
<line x1="571.16" y1="396.84" x2="599.16" y2="396.84" stroke-width="0.96" />
<line x1="585.16" y1="382.84" x2="585.16" y2="410.84" stroke-width="0.96" />
<circle cx="585.16" cy="239.16" r="7.9" stroke-width="1.98" fill="#fff" />
<line x1="577.16" y1="239.16" x2="593.16" y2="239.16" stroke-width="0.96" />
<line x1="585.16" y1="231.16" x2="585.16" y2="247.16" stroke-width="0.96" />
<circle cx="585.16" cy="239.16" r="3.7" stroke-width="1.2" fill="none" />
<circle cx="585.16" cy="239.16" r="1.7" stroke-width="0.84" fill="none" />
<line x1="569.56" y1="239.16" x2="570.76" y2="239.16" stroke-width="0.96" />
<line x1="599.56" y1="239.16" x2="600.76" y2="239.16" stroke-width="0.96" />
<line x1="584.56" y1="224.16" x2="585.76" y2="224.16" stroke-width="0.96" />
<line x1="584.56" y1="254.16" x2="585.76" y2="254.16" stroke-width="0.96" />
<circle cx="630.7" cy="318" r="5.1" stroke-width="1.2" fill="none" />
<circle cx="697.3" cy="318" r="5.1" stroke-width="1.2" fill="none" />
<path d="M668.7 328.82 A11.8 11.8 0 1 0 659.3 328.82 V334 H668.7 Z" stroke-width="1.2" fill="none" />
<line x1="536.2" y1="318" x2="648.5" y2="318" stroke-width="1.2" />
<line x1="656.4" y1="318" x2="671.6" y2="318" stroke-width="1.2" />
<line x1="679.5" y1="318" x2="791.5" y2="318" stroke-width="1.2" />
<line x1="664" y1="173.4" x2="664" y2="302.5" stroke-width="1.2" />
<line x1="664" y1="310" x2="664" y2="326" stroke-width="1.2" />
<line x1="664" y1="335" x2="664" y2="460" stroke-width="1.2" />
<line x1="551.5" y1="118" x2="551.5" y2="324" stroke-width="1.08" />
<line x1="775.6" y1="118" x2="775.6" y2="324" stroke-width="1.08" />
<line x1="548.3" y1="124.2" x2="779" y2="124.2" stroke-width="1.08" />
<polygon points="551.5,124.2 564.5,122 564.5,126.4" fill="#000" stroke="none"/>
<polygon points="775.6,124.2 762.6,126.4 762.6,122" fill="#000" stroke="none"/>
<g stroke-width="1.05" fill="none"><ellipse cx="665.36" cy="117.09" rx="3.92" ry="3.85"/><line x1="662.7" y1="122.48" x2="667.81" y2="111.28"/></g>
<text x="671.5" y="122.2" font-size="14" text-anchor="start" >74</text>
<line x1="630.5" y1="153" x2="630.5" y2="330.5" stroke-width="1.08" />
<line x1="697.2" y1="153" x2="697.2" y2="330.5" stroke-width="1.08" />
<line x1="627.2" y1="159.8" x2="700.5" y2="159.8" stroke-width="1.08" />
<polygon points="630.5,159.8 643.5,157.5 643.5,162.1" fill="#000" stroke="none"/>
<polygon points="697.2,159.8 684.2,162.1 684.2,157.5" fill="#000" stroke="none"/>
<g stroke-width="1.05" fill="none"><ellipse cx="657.96" cy="152.19" rx="3.92" ry="3.85"/><line x1="655.3" y1="157.58" x2="660.41" y2="146.38"/></g>
<text x="663.5" y="157.3" font-size="14" text-anchor="start" >22</text>
<line x1="644" y1="173.4" x2="664" y2="173.4" stroke-width="1.2" />
<polygon points="623,173.4 645,169.7 645,177.1" fill="#000" stroke="none"/>
<text x="686" y="177.6" font-size="12.5" text-anchor="start" >A</text>
<line x1="644" y1="459.9" x2="664" y2="459.9" stroke-width="1.2" />
<polygon points="623,459.9 645,456.2 645,463.6" fill="#000" stroke="none"/>
<text x="686" y="464" font-size="12.5" text-anchor="start" >A</text>
<line x1="711.3" y1="171" x2="830.7" y2="171" stroke-width="1.08" />
<line x1="711.3" y1="171" x2="699.2" y2="305" stroke-width="1.08" />
<polygon points="698.2,313.2 697.29,300.08 701.28,300.41" fill="#000" stroke="none"/>
<text x="713.6" y="167.3" font-size="11.2" text-anchor="start" >2 x</text>
<text x="736" y="167.3" font-size="11.2" text-anchor="start" >M4</text>
<text x="756.5" y="167.3" font-size="11.2" text-anchor="start" >−</text>
<text x="767" y="167.3" font-size="11.2" text-anchor="start" >6H</text>
<g stroke-width="0.97" fill="none"><ellipse cx="735.42" cy="179.75" rx="3.64" ry="3.58"/><line x1="732.95" y1="184.76" x2="737.69" y2="174.36"/></g>
<text x="741.3" y="184.6" font-size="13" text-anchor="start" >3.30</text>
<line x1="677.5" y1="481.6" x2="763" y2="481.6" stroke-width="1.08" />
<line x1="677.5" y1="481.6" x2="670.3" y2="447" stroke-width="1.08" />
<polygon points="665.9,436.2 672.43,447.39 668.71,448.85" fill="#000" stroke="none"/>
<text x="681.4" y="480.3" font-size="11.5" text-anchor="start" >16−</text>
<g stroke-width="0.9" fill="none"><ellipse cx="705.68" cy="475.92" rx="3.36" ry="3.3"/><line x1="703.4" y1="480.54" x2="707.78" y2="470.94"/></g>
<text x="712.8" y="480.3" font-size="11" text-anchor="start" >3.50</text>
</g>
<g id="title">
<text x="23.1 44.4 63 75.6 90 105.2" y="33.2" font-size="27.7" text-anchor="start" style="fill:#1a1a1a;font-family:'Liberation Sans',sans-serif">HF-17-</text>
<text x="116.6 124.8 133" y="33.6" font-size="30" text-anchor="start" style="fill:#1a1a1a;font-family:'Liberation Serif',serif">III</text>
<text x="141.1 170 198.3 223.6 251.1 278.6 307.3" y="34.98" font-size="28.2" text-anchor="start" style="fill:#1a1a1a;font-family:'Liberation Sans','Noto Sans CJK SC',sans-serif">系列谐波减速机</text>
</g>
<g id="cjk">
<text x="785 796.85 808.7 820.55" y="167.4" font-size="11.8" text-anchor="start" style="fill:#222;font-family:'Liberation Sans','Noto Sans CJK SC',sans-serif">完全贯穿</text>
<text x="771.6 784.9 798.2 811.5" y="184.8" font-size="13.2" text-anchor="start" style="fill:#222;font-family:'Liberation Sans','Noto Sans CJK SC',sans-serif">完全贯穿</text>
<text x="739.8 750.7" y="480.8" font-size="10.8" text-anchor="start" style="fill:#222;font-family:'Liberation Sans','Noto Sans CJK SC',sans-serif">贯穿</text>
</g>
</svg>
</body></html>
